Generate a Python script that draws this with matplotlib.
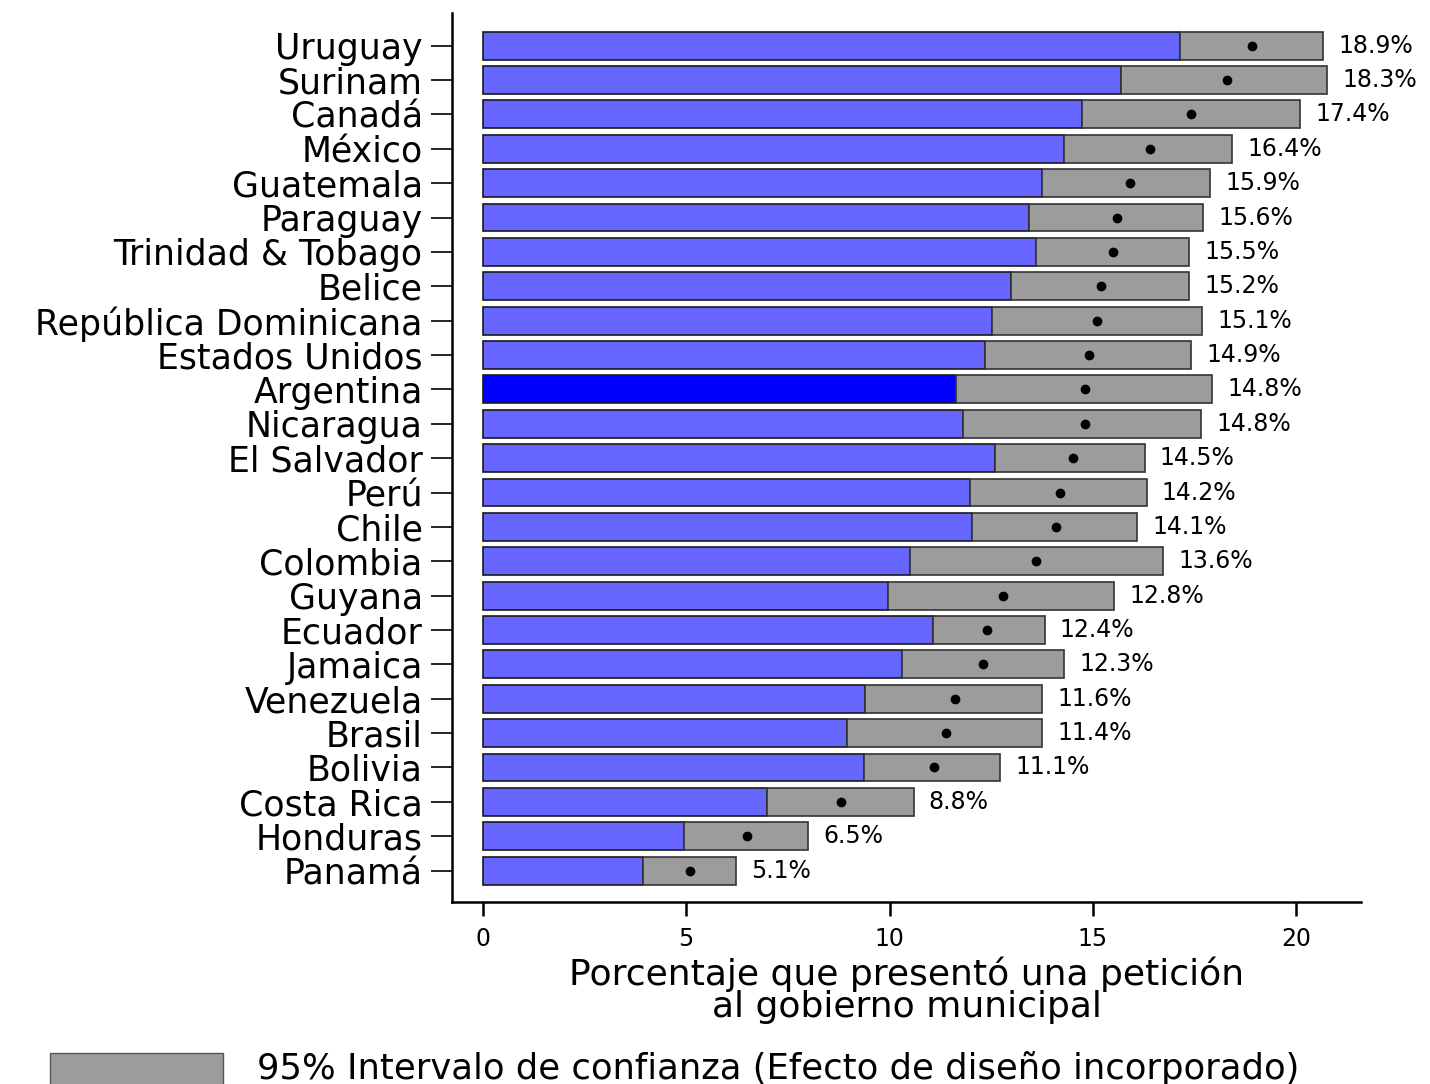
import numpy as np
import matplotlib
matplotlib.use("Agg")
import matplotlib.pyplot as plt
from matplotlib.patches import Rectangle

# Datos (de arriba hacia abajo)
paises = ["Uruguay", "Surinam", "Canadá", "México", "Guatemala", "Paraguay",
          "Trinidad & Tobago", "Belice", "República Dominicana", "Estados Unidos",
          "Argentina", "Nicaragua", "El Salvador", "Perú", "Chile", "Colombia",
          "Guyana", "Ecuador", "Jamaica", "Venezuela", "Brasil", "Bolivia",
          "Costa Rica", "Honduras", "Panamá"]
media = [18.9, 18.3, 17.4, 16.4, 15.9, 15.6, 15.5, 15.2, 15.1, 14.9,
         14.8, 14.8, 14.5, 14.2, 14.1, 13.6, 12.8, 12.4, 12.3, 11.6,
         11.4, 11.1, 8.8, 6.5, 5.1]
ic_inf = [17.15, 15.7, 14.72, 14.3, 13.76, 13.42, 13.59, 12.99, 12.52, 12.34,
          11.64, 11.81, 12.6, 11.98, 12.03, 10.5, 9.97, 11.07, 10.31, 9.4,
          8.96, 9.38, 6.98, 4.95, 3.93]
ic_sup = [20.65, 20.76, 20.09, 18.42, 17.89, 17.71, 17.37, 17.37, 17.68, 17.41,
          17.93, 17.65, 16.27, 16.32, 16.08, 16.72, 15.53, 13.81, 14.3, 13.76,
          13.76, 12.72, 10.59, 8.0, 6.22]
destacado = "Argentina"

plt.rcParams["font.family"] = ["DejaVu Sans"]

fig = plt.figure(figsize=(14.3, 10.84), dpi=100)
ax = fig.add_axes([0.316, 0.168, 0.636, 0.820])

n = len(paises)
y = np.arange(n)[::-1]
media = np.array(media)
ic_inf = np.array(ic_inf)
ic_sup = np.array(ic_sup)

colores = ["#0000FF" if p == destacado else "#6666FF" for p in paises]
alto = 0.81
ax.barh(y, ic_inf, height=alto, color=colores, edgecolor="#1a1a1a", linewidth=1.2, zorder=2)
ax.barh(y, ic_sup - ic_inf, left=ic_inf, height=alto, color="#9C9C9C",
        edgecolor="#333333", linewidth=1.2, zorder=2)
ax.plot(media, y, "o", color="black", markersize=6, zorder=3)

for yi, m, s in zip(y, media, ic_sup):
    ax.annotate(f"{m:.1f}%", (s, yi), xytext=(11, 0), textcoords="offset points",
                va="center", ha="left", fontsize=17)

ax.set_yticks(y)
ax.set_yticklabels(paises, fontsize=25)
ax.set_xticks([0, 5, 10, 15, 20])
ax.tick_params(axis="x", labelsize=17, length=10, width=1.8, pad=8)
ax.tick_params(axis="y", length=15, width=1.2, pad=6)
ax.set_xlim(-0.76, 21.6)
ax.set_ylim(-0.91, n - 1 + 0.95)

for lado in ["top", "right"]:
    ax.spines[lado].set_visible(False)
ax.spines["left"].set_linewidth(1.8)
ax.spines["bottom"].set_linewidth(1.8)

ax.set_xlabel("Porcentaje que presentó una petición\nal gobierno municipal",
              fontsize=26, linespacing=0.92, labelpad=4)

# Leyenda
fig.add_artist(Rectangle((0.035, -0.01), 0.121, 0.039, transform=fig.transFigure,
                         facecolor="#9C9C9C", edgecolor="#555555", linewidth=1))
fig.text(0.18, 0.0145, "95% Intervalo de confianza (Efecto de diseño incorporado)",
         fontsize=25.5, va="center", ha="left")

fig.savefig("out.png", dpi=100)
